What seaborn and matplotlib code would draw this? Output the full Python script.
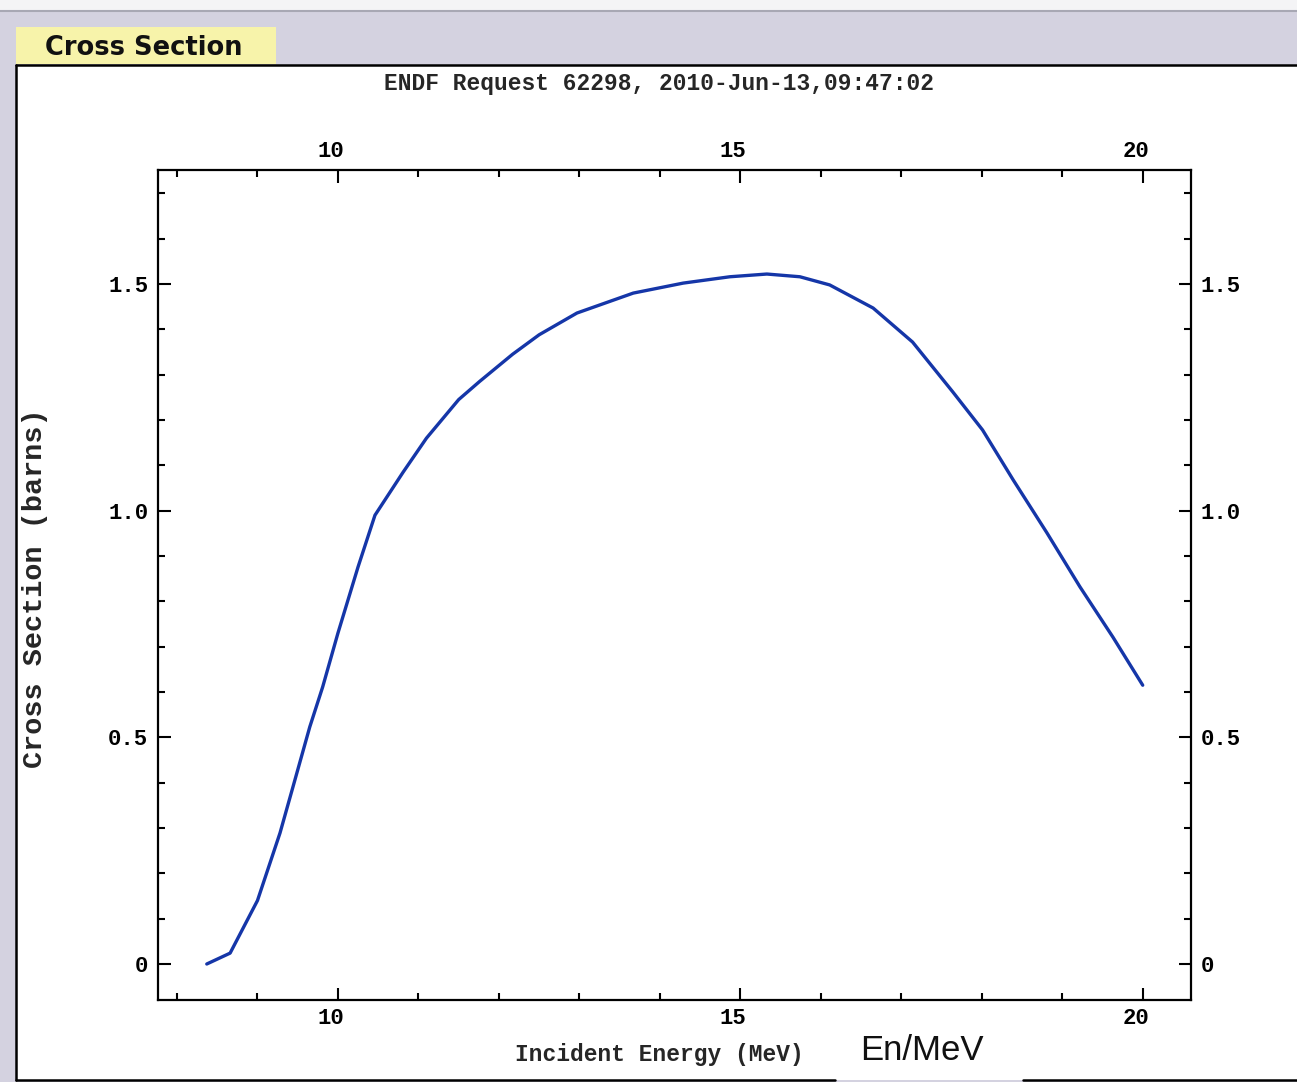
import matplotlib
matplotlib.use("Agg")
import matplotlib.pyplot as plt
import matplotlib.transforms as mtransforms
import seaborn as sns
import pandas as pd
from matplotlib.patches import Rectangle
from matplotlib.lines import Line2D
from matplotlib.ticker import MultipleLocator, FixedLocator, FixedFormatter

# ---- data ----
energy = [8.37, 8.66, 9.00, 9.28, 9.44, 9.65, 9.81, 10.00, 10.25, 10.46,
          10.81, 11.10, 11.50, 11.76, 12.17, 12.50, 12.97, 13.67, 14.29,
          14.87, 15.33, 15.74, 16.11, 16.65, 17.14, 17.64, 18.01, 18.39,
          18.81, 19.22, 19.63, 20.00]
cross_section = [0.000, 0.024, 0.140, 0.289, 0.390, 0.523, 0.611, 0.730,
                 0.876, 0.990, 1.085, 1.160, 1.245, 1.285, 1.345, 1.388,
                 1.436, 1.480, 1.502, 1.516, 1.522, 1.516, 1.498, 1.447,
                 1.372, 1.262, 1.178, 1.068, 0.951, 0.832, 0.721, 0.615]

x_ticks = [10, 15, 20]
x_tick_labels = ["10", "15", "20"]
y_ticks = [0, 0.5, 1.0, 1.5]
y_tick_labels = ["0", "0.5", "1.0", "1.5"]

title_text = "ENDF Request 62298, 2010-Jun-13,09:47:02"
x_label = "Incident Energy (MeV)"
y_label = "Cross Section (barns)"
tab_text = "Cross Section"
extra_text = "En/MeV"

df = pd.DataFrame({"energy": energy, "xs": cross_section})

sns.set_style("ticks")
plt.rcParams['font.family'] = ['Liberation Mono', 'DejaVu Sans Mono']

W, H = 1297, 1082
fig = plt.figure(figsize=(W / 100, H / 100), dpi=100)
LAV = '#d4d2e0'
fig.patch.set_facecolor(LAV)


def fx(px):
    return px / W


def fy(py):
    return 1 - py / H


def rect(x0, y0, x1, y1, color, z=0):
    fig.add_artist(Rectangle((fx(x0), fy(y1)), fx(x1) - fx(x0), fy(y0) - fy(y1),
                             transform=fig.transFigure, facecolor=color,
                             edgecolor='none', zorder=z))


def hline(x0, x1, y, color='black', lw=1.5, z=2):
    fig.add_artist(Line2D([fx(x0), fx(x1)], [fy(y), fy(y)], transform=fig.transFigure,
                          color=color, lw=lw, zorder=z))


def vline(x, y0, y1, color='black', lw=1.5, z=2):
    fig.add_artist(Line2D([fx(x), fx(x)], [fy(y0), fy(y1)], transform=fig.transFigure,
                          color=color, lw=lw, zorder=z))


# GUI frame
rect(0, 0, W, 10, '#f4f4f6')
hline(0, W, 11, color='#a8a8b4', lw=1.5)
rect(16, 65, W + 2, 1080, 'white')
rect(16, 27, 276, 64, '#f7f3aa')
hline(16, W, 65, lw=1.8)
vline(16, 65, 1080, lw=1.8)
hline(16, 835, 1080, lw=1.8)
hline(1023, W, 1080, lw=1.8)

fig.text(fx(45), fy(48), tab_text, family='DejaVu Sans', fontweight='bold',
         fontsize=18.5, ha='left', va='center', color='#111111')
fig.text(fx(922), fy(1051), extra_text, family='Liberation Sans',
         fontsize=25, ha='center', va='center', color='#111111')

# axes
ax = fig.add_axes([fx(158), fy(1000), fx(1191) - fx(158), fy(170) - fy(1000)])
ax.set_facecolor('white')
sns.lineplot(data=df, x="energy", y="xs", ax=ax, sort=False, estimator=None,
             color='#1536a8', linewidth=2.4)

ax.set_xlim(7.764, 20.6)
ax.set_ylim(-0.0794, 1.7515)

ax.xaxis.set_major_locator(FixedLocator(x_ticks))
ax.xaxis.set_major_formatter(FixedFormatter(x_tick_labels))
ax.xaxis.set_minor_locator(MultipleLocator(1))
ax.yaxis.set_major_locator(FixedLocator(y_ticks))
ax.yaxis.set_major_formatter(FixedFormatter(y_tick_labels))
ax.yaxis.set_minor_locator(MultipleLocator(0.1))

ax.tick_params(which='both', direction='in', top=True, right=True,
               labeltop=True, labelright=True, width=1.5, colors='black',
               labelsize=16, pad=7)
ax.tick_params(which='major', length=9)
ax.tick_params(which='minor', length=5)
ax.xaxis.set_tick_params(which='major', pad=6)
ax.yaxis.set_tick_params(which='major', pad=7)
for t in ax.xaxis.get_major_ticks() + ax.yaxis.get_major_ticks():
    t.label1.set_fontweight('bold')
    t.label2.set_fontweight('bold')

# x tick labels in the reference sit slightly left of their ticks
shift = mtransforms.ScaledTranslation(-7 / 100, 0, fig.dpi_scale_trans)
for t in ax.xaxis.get_major_ticks():
    for lab in (t.label1, t.label2):
        lab.set_transform(lab.get_transform() + shift)

for sp in ax.spines.values():
    sp.set_linewidth(1.6)
    sp.set_color('black')

ax.set_xlabel(x_label, fontsize=16.5, fontweight='bold')
ax.xaxis.set_label_coords((659 - 158) / 1033, (1000 - 1055) / 830)
ax.xaxis.label.set_va('center')
ax.set_ylabel(y_label, fontsize=20.5, fontweight='bold')
ax.yaxis.set_label_coords((35 - 158) / 1033, (1000 - 588) / 830)
ax.yaxis.label.set_va('center')

ax.text((658.5 - 158) / 1033, (1000 - 84) / 830, title_text, transform=ax.transAxes,
        ha='center', va='center', fontsize=16.5, fontweight='bold')
ax.grid(False)

fig.savefig("out.png", dpi=100, facecolor=fig.get_facecolor())
